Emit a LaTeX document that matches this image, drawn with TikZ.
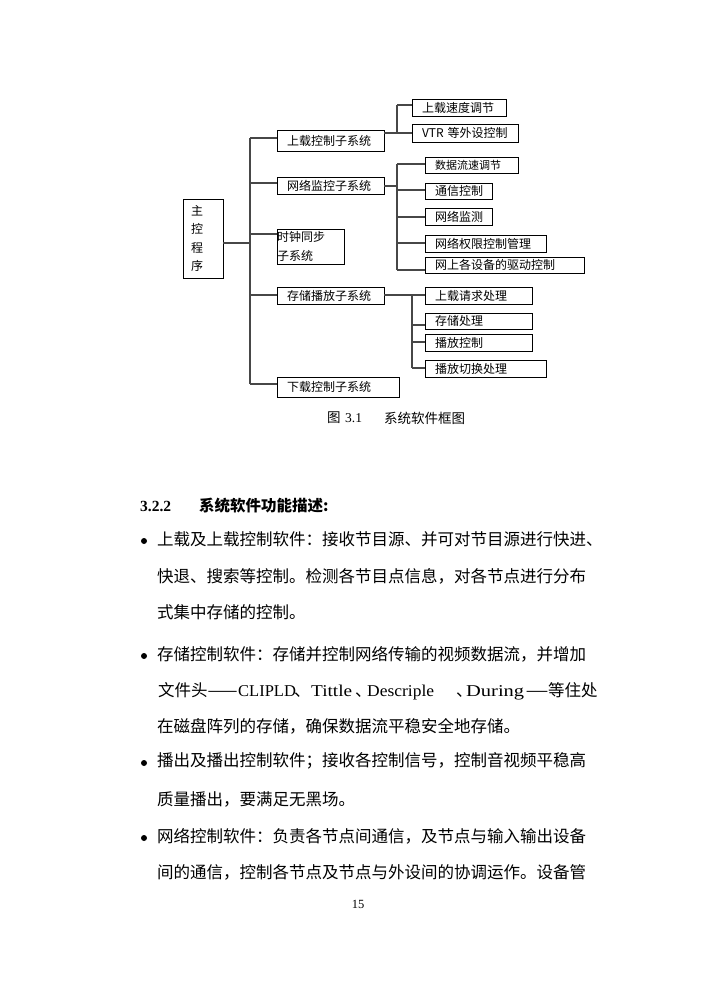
\documentclass[tikz,border=0pt]{standalone}
\usepackage{fontspec}
\setmainfont{Liberation Serif}
\newfontfamily\cjk{Noto Sans CJK SC}
\begin{document}
\begin{tikzpicture}[x=1pt,y=-1pt,
  box/.style={draw=black, line width=0.9pt, inner xsep=10pt, inner ysep=0pt, align=left, font=\cjk\fontsize{12}{14}\selectfont, anchor=center},
  conn/.style={draw=black!72, line width=1.3pt},
  body/.style={anchor=west, inner sep=0pt, font=\cjk\fontsize{16.5}{20}\selectfont},
  captxt/.style={anchor=west, inner sep=0pt, font=\cjk\fontsize{13.5}{16}\selectfont},
  bul/.style={circle, fill=black, inner sep=0pt, minimum size=6pt}]
\useasboundingbox[fill=white] (0,0) rectangle (703,994);

% ---- main and level-1 boxes
\node[box, inner xsep=8pt, text width=24pt, minimum height=79pt, font=\cjk\fontsize{12}{18.5}\selectfont] (m) at (203,238.5) {主\\控\\程\\序};
\node[box, text width=87pt, minimum height=21pt] (s1) at (330.5,140.5) {上载控制子系统};
\node[box, text width=87pt, minimum height=17pt] (s2) at (330.5,185.5) {网络监控子系统};
\node[box, inner xsep=0pt, text width=67pt, minimum height=35pt, font=\cjk\fontsize{12}{19}\selectfont] (s3) at (310.5,246.5) {时钟同步\\子系统};
\node[box, text width=87pt, minimum height=17pt] (s4) at (330.5,295.5) {存储播放子系统};
\node[box, text width=102pt, minimum height=20pt] (s5) at (338,387) {下载控制子系统};

% ---- group 1
\node[box, text width=74pt, minimum height=17pt] (a1) at (459,107.5) {上载速度调节};
\node[box, text width=86pt, minimum height=18pt] (a2) at (465,133) {VTR 等外设控制};

% ---- group 2
\node[box, text width=73pt, minimum height=16pt, font=\cjk\fontsize{11}{13}\selectfont] (b1) at (471.5,165) {数据流速调节};
\node[box, text width=47pt, minimum height=16pt] (b2) at (458.5,191) {通信控制};
\node[box, text width=47pt, minimum height=17pt] (b3) at (458.5,216.5) {网络监测};
\node[box, text width=101pt, minimum height=17pt] (b4) at (485.5,243.5) {网络权限控制管理};
\node[box, text width=139pt, minimum height=16pt] (b5) at (504.5,265) {网上各设备的驱动控制};

% ---- group 3
\node[box, text width=87pt, minimum height=17pt] (c1) at (478.5,295.5) {上载请求处理};
\node[box, text width=87pt, minimum height=16pt] (c2) at (478.5,321) {存储处理};
\node[box, text width=87pt, minimum height=17pt] (c3) at (478.5,342.5) {播放控制};
\node[box, text width=101pt, minimum height=17pt] (c4) at (485.5,368.5) {播放切换处理};

% ---- trunk connectors
\coordinate (ttop) at (250,138);
\coordinate (tbot) at (250,384);
\coordinate (mj) at (250,243);
\coordinate (j2) at (250,183);
\coordinate (j3) at (250,234);
\coordinate (j4) at (250,295);
\draw[conn] (ttop) -- (tbot);
\draw[conn] (mj -| m.east) -- (mj);
\draw[conn] (ttop) -- (ttop -| s1.west);
\draw[conn] (j2) -- (j2 -| s2.west);
\draw[conn] (j3) -- (j3 -| s3.west);
\draw[conn] (j4) -- (j4 -| s4.west);
\draw[conn] (tbot) -- (tbot -| s5.west);

% group 1 connectors
\coordinate (g1t) at (397,105);
\coordinate (g1b) at (397,133);
\draw[conn] (g1b -| s1.east) -- (g1b);
\draw[conn] (g1t) -- (g1b);
\draw[conn] (g1t) -- (g1t -| a1.west);
\draw[conn] (g1b) -- (g1b -| a2.west);

% group 2 connectors
\coordinate (g2a) at (397,164);
\coordinate (g2s) at (397,186);
\coordinate (g2b) at (397,190);
\coordinate (g2c) at (397,217);
\coordinate (g2d) at (397,243);
\coordinate (g2e) at (397,270);
\draw[conn] (g2s -| s2.east) -- (g2s);
\draw[conn] (g2a) -- (g2e);
\draw[conn] (g2a) -- (g2a -| b1.west);
\draw[conn] (g2b) -- (g2b -| b2.west);
\draw[conn] (g2c) -- (g2c -| b3.west);
\draw[conn] (g2d) -- (g2d -| b4.west);
\draw[conn] (g2e) -- (g2e -| b5.west);

% group 3 connectors
\coordinate (g3a) at (412,294);
\coordinate (g3m) at (412,295);
\coordinate (g3b) at (412,325);
\coordinate (g3c) at (412,342);
\coordinate (g3d) at (412,368);
\draw[conn] (g3m -| s4.east) -- (g3m -| c1.west);
\draw[conn] (g3a) -- (g3d);
\draw[conn] (g3b) -- (g3b -| c2.west);
\draw[conn] (g3c) -- (g3c -| c3.west);
\draw[conn] (g3d) -- (g3d -| c4.west);

% ---- caption
\node[captxt] (cp1) at (327,418) {图};
\node[anchor=west, inner sep=0pt, font=\fontsize{13.5}{16}\selectfont] (cp2) at (345,418) {3.1};
\node[captxt] (cp3) at (384,418) {系统软件框图};

% ---- heading
\node[anchor=west, inner sep=0pt, font=\bfseries\fontsize{15.5}{18}\selectfont] (h1) at (140,506) {3.2.2};
\node[anchor=west, inner sep=0pt, font=\cjk\bfseries\fontsize{15.5}{18}\selectfont] (h2) at (199,506) {系统软件功能描述:};

% ---- body
\node[bul] (d1) at (144,541) {};
\node[body] (l1) at (157,539) {上载及上载控制软件：接收节目源、并可对节目源进行快进、};
\node[body] (l2) at (157,576) {快退、搜索等控制。检测各节目点信息，对各节点进行分布};
\node[body] (l3) at (157,612) {式集中存储的控制。};

\node[bul] (d2) at (144,656) {};
\node[body] (l4) at (157,654) {存储控制软件：存储并控制网络传输的视频数据流，并增加};
\node[body] (l5) at (158,691) {\makebox[80pt][l]{文件头\resizebox{30pt}{\height}{——}}%
\makebox[56pt][l]{\rmfamily CLIPLD}\makebox[17pt][l]{、}%
\makebox[44pt][l]{\resizebox{41pt}{\height}{\rmfamily Tittle}}\makebox[12pt][l]{、}%
\makebox[89pt][l]{\resizebox{67pt}{\height}{\rmfamily Descriple}}\makebox[10pt][l]{、}%
\makebox[60pt][l]{\resizebox{58pt}{\height}{\rmfamily During}}\makebox[22pt][l]{\resizebox{22pt}{\height}{——}}等住处};
\node[body] (l6) at (157,726) {在磁盘阵列的存储，确保数据流平稳安全地存储。};

\node[bul] (d3) at (144,763) {};
\node[body] (l7) at (157,761) {播出及播出控制软件；接收各控制信号，控制音视频平稳高};
\node[body] (l8) at (157,799) {质量播出，要满足无黑场。};

\node[bul] (d4) at (144,838) {};
\node[body] (l9) at (157,836) {网络控制软件：负责各节点间通信，及节点与输入输出设备};
\node[body] (l10) at (157,872) {间的通信，控制各节点及节点与外设间的协调运作。设备管};

\node[inner sep=0pt, font=\fontsize{12.5}{14}\selectfont] (pg) at (358,904) {15};
\end{tikzpicture}
\end{document}
